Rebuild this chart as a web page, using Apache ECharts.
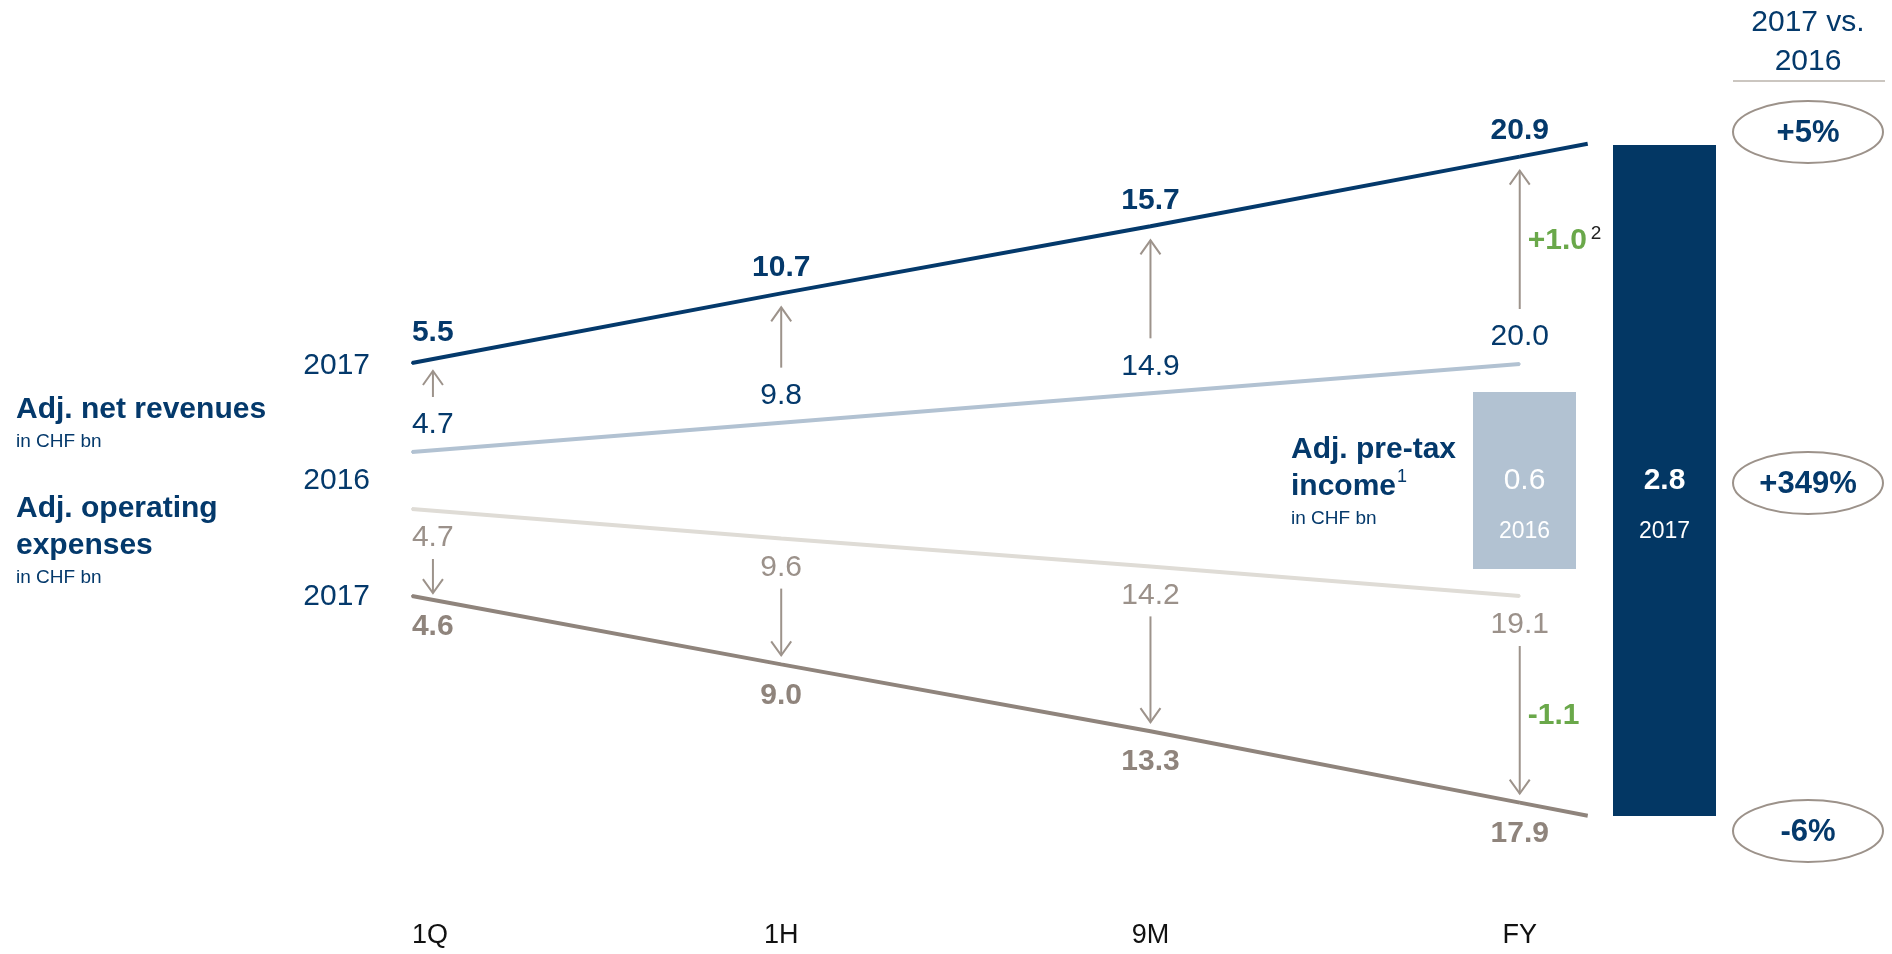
<!DOCTYPE html>
<html>
<head>
<meta charset="utf-8">
<title>Adj. net revenues, operating expenses and pre-tax income</title>
<script src="https://cdn.jsdelivr.net/npm/echarts@6/dist/echarts.min.js"></script>
<style>
  html, body { margin: 0; padding: 0; background: #ffffff; }
  #chart { width: 1892px; height: 954px; }
</style>
</head>
<body>
<div id="chart"></div>
<script>
// Cumulative figures per reporting period, CHF bn
const periods = ['1Q', '1H', '9M', 'FY'];
const revenue2017 = [5.5, 10.7, 15.7, 20.9];
const revenue2016 = [4.7, 9.8, 14.9, 20.0];
const expenses2016 = [4.7, 9.6, 14.2, 19.1];
const expenses2017 = [4.6, 9.0, 13.3, 17.9];
// Full-year change annotations (revenues, expenses)
const fyChanges = ['+1.0', '-1.1'];
// Adj. pre-tax income
const pretaxYears = ['2016', '2017'];
const pretaxIncome = [0.6, 2.8];
// 2017 vs. 2016 (revenues, pre-tax income, expenses)
const changeVs2016 = ['+5%', '+349%', '-6%'];

const FONT = '"Liberation Sans", Arial, Helvetica, sans-serif';
const NAVY = '#04396b';
const BAR_NAVY = '#033764';
const REV16 = '#b2c2d2';
const EXP16 = '#dfdcd6';
const TAUPE = '#8f847c';
const TAUPE_TXT = '#9b918a';
const ARROW = '#9d938b';
const GREEN = '#6aa84a';

const chart = echarts.init(document.getElementById('chart'), null, { renderer: 'canvas' });

// y-axis indices (all share grid 0 and the period x-axis)
const Y_REV17 = 0, Y_REV16 = 1, Y_EXP16 = 2, Y_EXP17 = 3, Y_PT16 = 4, Y_PT17 = 5;

function lineSeries(values, yAxisIndex, color, label, firstLabel) {
  return {
    type: 'line',
    xAxisIndex: 0,
    yAxisIndex,
    silent: true,
    animation: false,
    symbol: 'circle',
    symbolSize: 2,
    itemStyle: { color, borderWidth: 0 },
    lineStyle: { color, width: 4, cap: 'butt' },
    label: Object.assign({
      show: true,
      fontFamily: FONT,
      fontSize: 30,
      formatter: (p) => p.value[1].toFixed(1)
    }, label),
    data: values.map((v, i) => i === 0
      ? { value: [i, v], label: Object.assign({ align: 'left' }, firstLabel || {}) }
      : { value: [i, v] })
  };
}

// Continues the FY segment of a 2017 line into the pre-tax income bar
function tailSeries(values, yAxisIndex, color) {
  const n = values.length;
  return {
    type: 'custom',
    xAxisIndex: 0,
    yAxisIndex,
    silent: true,
    animation: false,
    data: [[n - 1, values[n - 1], n - 2, values[n - 2]]],
    renderItem(params, api) {
      const a = api.coord([api.value(0), api.value(1)]);
      const b = api.coord([api.value(2), api.value(3)]);
      const slope = (a[1] - b[1]) / (a[0] - b[0]);
      const run = 68;
      return {
        type: 'line',
        shape: { x1: a[0], y1: a[1], x2: a[0] + run, y2: a[1] + slope * run },
        style: { stroke: color, lineWidth: 4, lineCap: 'butt' }
      };
    }
  };
}

// Arrows from the 2016 figure to the 2017 line in each period
function arrowSeries(v17, v16, yAxis17, yAxis16, dir, note, noteSup) {
  return {
    type: 'custom',
    xAxisIndex: 0,
    yAxisIndex: yAxis17,
    silent: true,
    animation: false,
    z: 3,
    data: periods.map((p, i) => [i, v17[i], v16[i]]),
    renderItem(params, api) {
      const i = api.value(0);
      const p17 = api.coord([i, api.value(1)]);
      let p16 = null;
      try {
        p16 = chart.convertToPixel({ xAxisIndex: 0, yAxisIndex: yAxis16 }, [i, api.value(2)]);
      } catch (e) { p16 = null; }
      if (!p16) return null;
      const x = p17[0] + (i === 0 ? 21 : 0);
      let y0, y1;
      if (dir < 0) {
        y0 = p16[1] - 55;
        y1 = p17[1] + (i === 0 ? 8 : 14);
      } else {
        y0 = p16[1] + 50;
        y1 = p17[1] - (i === 0 ? 3 : 9);
      }
      const head = 14;
      const children = [
        { type: 'line', shape: { x1: x, y1: y0, x2: x, y2: y1 },
          style: { stroke: ARROW, lineWidth: 2 } },
        { type: 'polyline',
          shape: { points: [[x - 10, y1 - dir * head], [x, y1], [x + 10, y1 - dir * head]] },
          style: { stroke: ARROW, fill: null, lineWidth: 2 } }
      ];
      if (i === periods.length - 1 && note) {
        const ym = (y0 + y1) / 2 + (dir > 0 ? -4 : 1);
        children.push({
          type: 'text', x: x + 8, y: ym,
          style: { text: note, fill: GREEN, fontSize: 30, fontWeight: 'bold',
                   fontFamily: FONT, align: 'left', verticalAlign: 'middle' }
        });
        if (noteSup) {
          children.push({
            type: 'text', x: x + 71, y: ym - 7,
            style: { text: noteSup, fill: '#222222', fontSize: 19,
                     fontFamily: FONT, align: 'left', verticalAlign: 'middle' }
          });
        }
      }
      return { type: 'group', children };
    }
  };
}

function barLabel(bold) {
  return {
    show: true,
    position: 'inside',
    offset: [0, 31],
    formatter: (p) => '{v|' + Number(p.value).toFixed(1) + '}\n{y|' + p.name + '}',
    rich: {
      v: { fontSize: 30, fontFamily: FONT, fontWeight: bold ? 'bold' : 'normal',
           color: '#ffffff', lineHeight: 40, align: 'center' },
      y: { fontSize: 23, fontFamily: FONT, color: '#ffffff', lineHeight: 62, align: 'center' }
    }
  };
}

const txt = (x, y, text, size, opts) => ({
  type: 'text', x, y, silent: true,
  style: Object.assign({
    text, fontSize: size, fontFamily: FONT, fill: NAVY,
    align: 'left', verticalAlign: 'middle'
  }, opts || {})
});
const bold = { fontWeight: 'bold' };

const ellipse = (cy, text) => ([
  { type: 'ellipse', silent: true, shape: { cx: 1808, cy, rx: 75, ry: 31 },
    style: { fill: null, stroke: '#9c928a', lineWidth: 2 } },
  txt(1808, cy + 1, text, 31, { align: 'center', fontWeight: 'bold' })
]);

const hiddenY = (min, max, inverse, gridIndex) => ({
  type: 'value', gridIndex: gridIndex || 0, min, max, inverse: !!inverse, show: false,
  splitLine: { show: false }
});

const option = {
  backgroundColor: '#ffffff',
  animation: false,
  grid: [
    { left: 42.67, width: 1851.67, top: 0, height: 900 },
    { left: 1454.5, width: 280, top: 0, height: 900 }
  ],
  xAxis: [
    {
      type: 'value', gridIndex: 0, min: -1, max: 4, interval: 1,
      axisLine: { show: false }, axisTick: { show: false }, splitLine: { show: false },
      axisLabel: {
        margin: 22,
        fontSize: 27, fontFamily: FONT, color: '#111111',
        formatter: (v) => {
          const i = Math.round(v);
          if (i === 0) return '{first|' + periods[0] + '}';
          return periods[i] || '';
        },
        rich: {
          first: { padding: [0, 0, 0, 36], fontSize: 27, fontFamily: FONT, color: '#111111' }
        }
      }
    },
    { type: 'category', gridIndex: 1, data: pretaxYears, show: false }
  ],
  yAxis: [
    hiddenY(-34.57, 32.59, false),   // revenues 2017
    hiddenY(-73.19, 83.28, false),   // revenues 2016
    hiddenY(-79.57, 69.43, true),    // expenses 2016
    hiddenY(-33.78, 24.17, true),    // expenses 2017
    hiddenY(-1.122, 1.929, false, 1),  // pre-tax income 2016
    hiddenY(-0.3505, 3.4051, false, 1) // pre-tax income 2017
  ],
  series: [
    lineSeries(revenue2016, Y_REV16, REV16,
      { position: 'top', distance: 11, color: NAVY }),
    lineSeries(expenses2016, Y_EXP16, EXP16,
      { position: 'bottom', distance: 13, color: TAUPE_TXT }),
    lineSeries(revenue2017, Y_REV17, NAVY,
      { position: 'top', distance: 10, color: NAVY, fontWeight: 'bold' }, { distance: 14 }),
    lineSeries(expenses2017, Y_EXP17, TAUPE,
      { position: 'bottom', distance: 15, color: TAUPE, fontWeight: 'bold' }),
    tailSeries(revenue2017, Y_REV17, NAVY),
    tailSeries(expenses2017, Y_EXP17, TAUPE),
    arrowSeries(revenue2017, revenue2016, Y_REV17, Y_REV16, -1, fyChanges[0], '2'),
    arrowSeries(expenses2017, expenses2016, Y_EXP17, Y_EXP16, 1, fyChanges[1], null),
    {
      type: 'bar', xAxisIndex: 1, yAxisIndex: Y_PT16, silent: true,
      data: [pretaxIncome[0], '-'], barWidth: 103, barGap: '-100%',
      itemStyle: { color: REV16 }, label: barLabel(false)
    },
    {
      type: 'bar', xAxisIndex: 1, yAxisIndex: Y_PT17, silent: true,
      data: ['-', pretaxIncome[1]], barWidth: 103, barGap: '-100%',
      itemStyle: { color: BAR_NAVY }, label: barLabel(true)
    }
  ],
  graphic: [
    txt(370, 366, '2017', 30, { align: 'right' }),
    txt(16, 410, 'Adj. net revenues', 30, bold),
    txt(16, 442, 'in CHF bn', 19),
    txt(370, 481, '2016', 30, { align: 'right' }),
    txt(16, 509, 'Adj. operating', 30, bold),
    txt(16, 546, 'expenses', 30, bold),
    txt(16, 578, 'in CHF bn', 19),
    txt(370, 597, '2017', 30, { align: 'right' }),

    txt(1291, 450, 'Adj. pre-tax', 30, bold),
    txt(1291, 487, 'income', 30, bold),
    txt(1397, 477, '1', 18),
    txt(1291, 519, 'in CHF bn', 19),

    txt(1808, 23, '2017 vs.', 30, { align: 'center' }),
    txt(1808, 62, '2016', 30, { align: 'center' }),
    { type: 'line', silent: true, shape: { x1: 1733, y1: 81, x2: 1885, y2: 81 },
      style: { stroke: '#cbc6c0', lineWidth: 2 } },
    ...ellipse(132, changeVs2016[0]),
    ...ellipse(483, changeVs2016[1]),
    ...ellipse(831, changeVs2016[2])
  ]
};

chart.setOption(option);
// second pass so the arrows can read the finished axis layout
chart.setOption(option);
</script>
</body>
</html>
